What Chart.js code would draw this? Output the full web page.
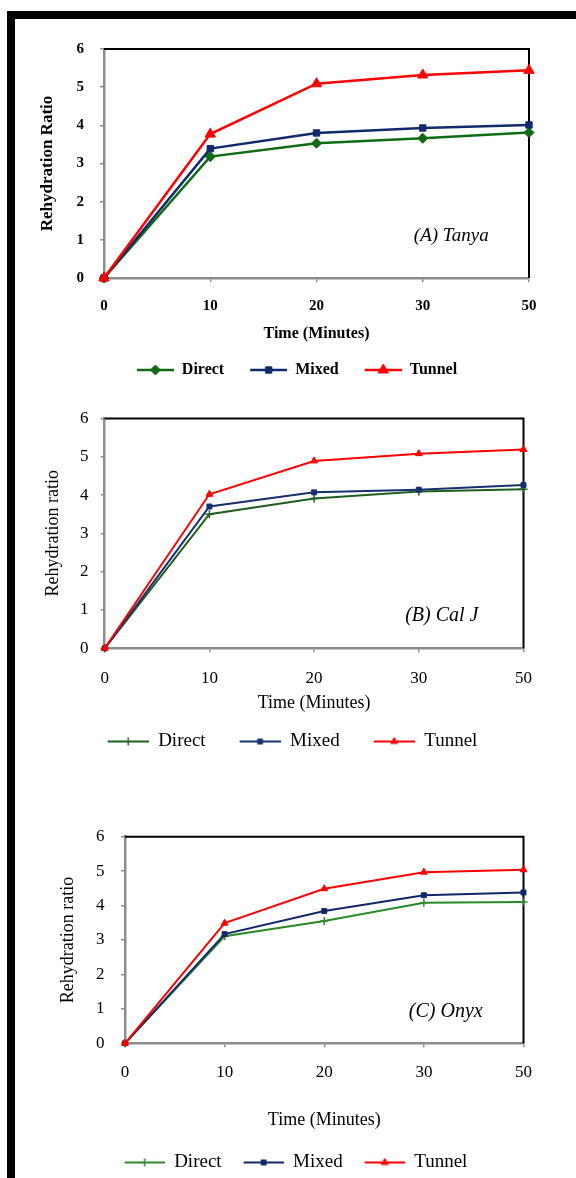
<!DOCTYPE html>
<html>
<head>
<meta charset="utf-8">
<script src="https://cdn.jsdelivr.net/npm/chart.js@4.4.1/dist/chart.umd.min.js"></script>
<style>
  html, body { margin: 0; padding: 0; width: 576px; height: 1178px; overflow: hidden; background: #fff; }
  #frame { position: absolute; left: 7px; top: 11px; right: 0; height: 1200px; border-top: 8px solid #000; border-left: 8px solid #000; }
  canvas { position: absolute; left: 0; }
</style>
</head>
<body>
<div id="frame"></div>
<canvas id="chartA"></canvas>
<canvas id="chartB"></canvas>
<canvas id="chartC"></canvas>
<script>
// data
const times = ["0", "10", "20", "30", "50"];
const seriesNames = ["Direct", "Mixed", "Tunnel"];
const yTicks = [0, 1, 2, 3, 4, 5, 6];

const tanyaDirect = [0, 3.18, 3.53, 3.66, 3.81];
const tanyaMixed = [0, 3.39, 3.80, 3.93, 4.01];
const tanyaTunnel = [0, 3.77, 5.09, 5.32, 5.44];

const calDirect = [0, 3.50, 3.91, 4.09, 4.15];
const calMixed = [0, 3.70, 4.07, 4.14, 4.26];
const calTunnel = [0, 4.02, 4.89, 5.08, 5.19];

const onyxDirect = [0, 3.11, 3.55, 4.08, 4.10];
const onyxMixed = [0, 3.17, 3.84, 4.30, 4.38];
const onyxTunnel = [0, 3.49, 4.49, 4.97, 5.04];

const SERIF = "'Liberation Serif', 'Times New Roman', serif";
Chart.defaults.font.family = SERIF;
Chart.defaults.color = "#000";

function legendImage(color, style, radius, lead, len, lw) {
  const c = document.createElement("canvas");
  c.width = lead + len;
  c.height = 20;
  const ctx = c.getContext("2d");
  ctx.strokeStyle = color;
  ctx.fillStyle = color;
  ctx.lineWidth = lw;
  ctx.beginPath();
  ctx.moveTo(lead, 10);
  ctx.lineTo(lead + len, 10);
  ctx.stroke();
  ctx.lineWidth = style === "cross" ? 1.5 : 1;
  if (Chart.helpers && Chart.helpers.drawPoint) {
    Chart.helpers.drawPoint(ctx, { pointStyle: style, radius: radius, rotation: 0, borderWidth: 1 }, lead + len / 2, 10);
  }
  return c;
}

const frameLines = {
  id: "frameLines",
  beforeDatasetsDraw(chart) {
    const a = chart.chartArea, ctx = chart.ctx;
    ctx.save();
    ctx.strokeStyle = "#000";
    ctx.lineWidth = 2;
    ctx.beginPath();
    ctx.moveTo(a.left, a.top);
    ctx.lineTo(a.right, a.top);
    ctx.lineTo(a.right, a.bottom);
    ctx.stroke();
    ctx.restore();
  },
};

const noteText = {
  id: "noteText",
  afterDraw(chart, args, opts) {
    if (!opts.text) return;
    const ctx = chart.ctx;
    const x = chart.scales.x.getPixelForValue(opts.at[0]);
    const y = chart.scales.y.getPixelForValue(opts.at[1]);
    ctx.save();
    ctx.font = "italic " + opts.size + "px " + SERIF;
    ctx.fillStyle = "#000";
    ctx.textAlign = "right";
    ctx.textBaseline = "middle";
    ctx.fillText(opts.text, x, y);
    ctx.restore();
  },
};

const legendShift = {
  id: "legendShift",
  afterLayout(chart, args, opts) {
    const lg = chart.legend;
    if (!lg) return;
    const dx = opts.center - opts.lead / 2 - (lg.left + lg.right) / 2;
    lg.left += dx;
    lg.right += dx;
  },
};

function makeChart(id, s) {
  const el = document.getElementById(id);
  const lp = 10;
  const H = Math.round(s.legendY + s.legendFont / 2 + 10 - s.top);
  el.width = 576;
  el.height = H;
  el.style.top = s.top + "px";
  const legendH = s.legendFont + lp + 10;
  const legendTop = H - legendH;
  const xAxisH = legendTop - (s.plot.b - s.top);
  const yWidth = s.plot.l - s.padLeft;
  const weight = s.bold ? "bold" : "normal";

  const datasets = s.series.map((sr, i) => ({
    label: seriesNames[i],
    data: sr.data,
    borderColor: sr.color,
    backgroundColor: sr.color,
    borderWidth: s.lineWidth,
    pointStyle: sr.style,
    pointRadius: sr.radius,
    pointBorderWidth: sr.style === "cross" ? 1.5 : 1,
    tension: 0,
    fill: false,
    clip: false,
    order: 2 - i,
  }));

  return new Chart(el.getContext("2d"), {
    type: "line",
    data: { labels: times, datasets: datasets },
    plugins: [frameLines, noteText, legendShift],
    options: {
      responsive: false,
      animation: false,
      events: [],
      layout: { padding: { top: s.plot.t - s.top, right: 576 - s.plot.r, left: s.padLeft, bottom: 0 } },
      scales: {
        x: {
          type: "category",
          offset: false,
          grid: { drawOnChartArea: false, drawTicks: true, tickLength: 4, color: "#8c8c8c", lineWidth: 1.5 },
          border: { display: true, color: "#8c8c8c", width: 2.5 },
          ticks: {
            font: { size: s.tickFont, weight: weight },
            padding: s.xTickY - s.plot.b - 4 - s.tickFont * 0.6,
            maxRotation: 0,
            autoSkip: false,
          },
          title: {
            display: true,
            text: "Time (Minutes)",
            font: { size: s.xTitleFont, weight: weight },
            padding: { top: 0, bottom: (legendTop + s.top) - s.xTitleY - s.xTitleFont * 0.6 },
          },
          afterFit: (sc) => { sc.height = xAxisH; },
        },
        y: {
          min: 0,
          max: 6,
          afterBuildTicks: (sc) => { sc.ticks = yTicks.map((v) => ({ value: v })); },
          grid: { drawOnChartArea: false, drawTicks: true, tickLength: 4, color: "#8c8c8c", lineWidth: 1.5 },
          border: { display: true, color: "#8c8c8c", width: 2.5 },
          ticks: {
            font: { size: s.tickFont, weight: weight },
            padding: s.plot.l - 4 - s.yTickRight,
          },
          title: {
            display: true,
            text: s.yTitle,
            font: { size: s.yTitleFont, weight: weight },
            padding: { top: s.yTitleX - s.padLeft - s.yTitleFont * 0.6, bottom: 0 },
          },
          afterFit: (sc) => { sc.width = yWidth; },
        },
      },
      plugins: {
        tooltip: { enabled: false },
        legend: {
          position: "bottom",
          labels: {
            usePointStyle: true,
            pointStyleWidth: s.legendLead + s.legendLine,
            padding: lp,
            font: { size: s.legendFont, weight: weight },
            color: "#000",
            generateLabels: (chart) => chart.data.datasets.map((ds, i) => ({
              text: ds.label,
              pointStyle: legendImage(ds.borderColor, ds.pointStyle, s.series[i].radius, s.legendLead, s.legendLine, s.lineWidth),
              fillStyle: ds.borderColor,
              strokeStyle: ds.borderColor,
              lineWidth: 0,
              hidden: false,
              datasetIndex: i,
            })),
          },
        },
        legendShift: { center: s.legendCenter, lead: s.legendLead },
        noteText: { text: s.note, at: s.noteAt, size: s.noteFont },
      },
    },
  });
}

document.addEventListener("DOMContentLoaded", () => {
  makeChart("chartA", {
    top: 24, plot: { l: 104, t: 46, r: 529, b: 278 }, padLeft: 30, bold: true,
    tickFont: 15, yTickRight: 84, yTitle: "Rehydration Ratio", yTitleFont: 17, yTitleX: 48,
    xTickY: 306, xTitleFont: 16, xTitleY: 333.5,
    legendY: 370, legendFont: 16, legendLead: 16, legendLine: 37, legendCenter: 297,
    note: "(A) Tanya", noteAt: [3.62, 1.11], noteFont: 19, lineWidth: 2.5,
    series: [
      { data: tanyaDirect, color: "#0f6b14", style: "rectRot", radius: 5 },
      { data: tanyaMixed, color: "#102a6b", style: "rect", radius: 4.5 },
      { data: tanyaTunnel, color: "#ff0000", style: "triangle", radius: 6 },
    ],
  });

  makeChart("chartB", {
    top: 396, plot: { l: 104.7, t: 416.7, r: 523.5, b: 648.3 }, padLeft: 30, bold: false,
    tickFont: 17, yTickRight: 88.5, yTitle: "Rehydration ratio", yTitleFont: 18, yTitleX: 53,
    xTickY: 679, xTitleFont: 18, xTitleY: 703,
    legendY: 741, legendFont: 19, legendLead: 24, legendLine: 41, legendCenter: 292.5,
    note: "(B) Cal J", noteAt: [3.57, 0.84], noteFont: 20, lineWidth: 2,
    series: [
      { data: calDirect, color: "#1f5e1f", style: "cross", radius: 4 },
      { data: calMixed, color: "#17306e", style: "rect", radius: 3.5 },
      { data: calTunnel, color: "#ff0000", style: "triangle", radius: 4 },
    ],
  });

  makeChart("chartC", {
    top: 810, plot: { l: 125, t: 836.7, r: 523.5, b: 1043.3 }, padLeft: 40, bold: false,
    tickFont: 17, yTickRight: 104.5, yTitle: "Rehydration ratio", yTitleFont: 18, yTitleX: 68,
    xTickY: 1072.7, xTitleFont: 18, xTitleY: 1120,
    legendY: 1162.7, legendFont: 19, legendLead: 12, legendLine: 40, legendCenter: 296,
    note: "(C) Onyx", noteAt: [3.59, 0.91], noteFont: 20, lineWidth: 2,
    series: [
      { data: onyxDirect, color: "#2a8a2a", style: "cross", radius: 4 },
      { data: onyxMixed, color: "#10286a", style: "rect", radius: 3.5 },
      { data: onyxTunnel, color: "#ff0000", style: "triangle", radius: 4 },
    ],
  });
});
</script>
</body>
</html>
